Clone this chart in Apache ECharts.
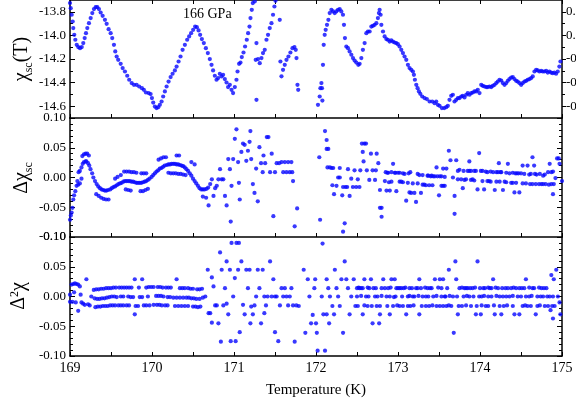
<!DOCTYPE html>
<html><head><meta charset="utf-8">
<script src="https://cdn.jsdelivr.net/npm/echarts@6/dist/echarts.min.js"></script>
<style>html,body{margin:0;padding:0;background:#fff}#c{width:576px;height:409px}</style>
</head><body><div id="c"></div>
<script>
// ---------- data ----------
const xTickLabels = ['169','170','171','172','173','174','175'];
const chiTicks = [-14.6,-14.4,-14.2,-14.0,-13.8];
const chiMinorTicks = [-14.5,-14.3,-14.1,-13.9];
const chiTickLabels = ['-14.6','-14.4','-14.2','-14.0','-13.8'];
const chiRightLabels = ['-0.6','-0.4','-0.2','0.0','0.2'];
const pressureLabel = '166 GPa';

// panel 1: chi_sc (T)
const chiSc = [
[169.000,-13.726],[169.009,-13.769],[169.021,-13.825],[169.033,-13.882],[169.040,-13.938],[169.052,-13.995],[169.065,-14.037],[169.082,-14.080],[169.101,-14.099],[169.122,-14.108],[169.143,-14.099],[169.162,-14.065],[169.179,-14.023],[169.195,-13.981],[169.211,-13.938],[169.231,-13.896],[169.252,-13.853],[169.272,-13.811],[169.292,-13.777],[169.313,-13.760],[169.333,-13.760],[169.353,-13.777],[169.374,-13.806],[169.398,-13.834],[169.426,-13.868],[169.447,-13.902],[169.471,-13.947],[169.496,-13.981],[169.515,-14.023],[169.536,-14.080],[169.552,-14.136],[169.569,-14.179],[169.588,-14.207],[169.618,-14.241],[169.642,-14.277],[169.670,-14.306],[169.698,-14.342],[169.722,-14.376],[169.752,-14.404],[169.780,-14.419],[169.812,-14.419],[169.844,-14.433],[169.877,-14.447],[169.901,-14.461],[169.926,-14.484],[169.959,-14.489],[169.983,-14.497],[169.999,-14.531],[170.015,-14.569],[170.035,-14.603],[170.056,-14.616],[170.076,-14.608],[170.096,-14.588],[170.117,-14.560],[170.136,-14.518],[170.157,-14.475],[170.178,-14.433],[170.202,-14.391],[170.227,-14.353],[170.251,-14.325],[170.279,-14.297],[170.300,-14.264],[170.324,-14.221],[170.348,-14.179],[170.373,-14.122],[170.401,-14.080],[170.429,-14.037],[170.453,-14.009],[170.477,-13.981],[170.502,-13.953],[170.526,-13.925],[170.547,-13.930],[170.568,-13.958],[170.587,-13.995],[170.608,-14.031],[170.632,-14.065],[170.657,-14.108],[170.681,-14.150],[170.705,-14.201],[170.726,-14.249],[170.745,-14.297],[170.766,-14.342],[170.787,-14.376],[170.806,-14.362],[170.827,-14.325],[170.848,-14.348],[170.867,-14.334],[170.888,-14.370],[170.909,-14.399],[170.928,-14.438],[170.949,-14.419],[170.970,-14.461],[170.989,-14.489],[171.010,-14.438],[171.030,-14.376],[171.043,-14.306],[171.062,-14.241],[171.079,-14.230],[171.095,-14.184],[171.116,-14.145],[171.135,-14.094],[171.156,-14.037],[171.172,-13.981],[171.189,-13.925],[171.201,-13.853],[171.217,-13.783],[171.229,-13.726],[171.253,-13.712],[171.274,-14.065],[171.274,-14.546],[171.265,-14.207],[171.293,-14.201],[171.314,-14.235],[171.335,-14.192],[171.354,-14.150],[171.375,-14.122],[171.396,-14.037],[171.415,-13.995],[171.436,-13.938],[171.457,-13.896],[171.476,-13.825],[171.493,-13.755],[171.506,-13.707],[171.558,-13.868],[171.566,-14.221],[171.579,-14.347],[171.598,-14.292],[171.619,-14.249],[171.640,-14.207],[171.664,-14.179],[171.688,-14.145],[171.713,-14.108],[171.737,-14.099],[171.753,-14.122],[171.762,-14.192],[171.774,-14.419],[171.783,-14.461],
[172.024,-14.588],[172.045,-14.518],[172.054,-14.447],[172.066,-14.404],[172.073,-14.447],[172.078,-14.552],[172.085,-14.249],[172.094,-14.080],[172.106,-13.995],[172.118,-13.953],[172.134,-13.910],[172.151,-13.868],[172.167,-13.811],[172.188,-13.783],[172.207,-13.797],[172.228,-13.811],[172.248,-13.797],[172.268,-13.783],[172.289,-13.777],[172.309,-13.797],[172.329,-13.825],[172.341,-13.910],[172.353,-14.023],[172.370,-14.094],[172.390,-14.108],[172.410,-14.136],[172.431,-14.164],[172.451,-14.192],[172.471,-14.213],[172.492,-14.230],[172.516,-14.249],[172.532,-14.241],[172.553,-14.192],[172.572,-14.122],[172.593,-14.065],[172.614,-13.981],[172.633,-13.967],[172.654,-13.967],[172.675,-13.925],[172.694,-13.919],[172.715,-13.910],[172.736,-13.896],[172.755,-13.853],[172.767,-13.811],[172.776,-13.783],[172.788,-13.825],[172.797,-13.910],[172.817,-13.967],[172.837,-14.009],[172.858,-14.031],[172.877,-14.037],[172.898,-14.052],[172.918,-14.043],[172.938,-14.052],[172.959,-14.060],[172.979,-14.065],[172.999,-14.074],[173.019,-14.094],[173.040,-14.122],[173.060,-14.150],[173.080,-14.179],[173.101,-14.207],[173.121,-14.249],[173.141,-14.277],[173.162,-14.292],[173.182,-14.306],[173.194,-14.334],[173.206,-14.376],[173.223,-14.419],[173.239,-14.447],[173.255,-14.475],[173.272,-14.495],[173.296,-14.518],[173.324,-14.531],[173.352,-14.540],[173.385,-14.560],[173.418,-14.560],[173.446,-14.574],[173.466,-14.560],[173.486,-14.588],[173.507,-14.597],[173.535,-14.616],[173.564,-14.616],[173.588,-14.608],[173.608,-14.597],[173.628,-14.546],[173.649,-14.512],[173.669,-14.503],[173.689,-14.560],[173.710,-14.546],[173.730,-14.531],[173.750,-14.531],[173.771,-14.518],[173.790,-14.512],[173.811,-14.526],[173.832,-14.503],[173.851,-14.489],[173.872,-14.503],[173.893,-14.489],[173.912,-14.484],[173.933,-14.475],[173.954,-14.475],[173.973,-14.461],[173.994,-14.489],[174.015,-14.419],[174.034,-14.427],[174.055,-14.433],[174.076,-14.438],[174.095,-14.438],[174.116,-14.433],[174.137,-14.438],[174.156,-14.427],[174.177,-14.419],[174.198,-14.404],[174.217,-14.391],[174.238,-14.376],[174.259,-14.382],[174.278,-14.404],[174.299,-14.419],[174.320,-14.404],[174.339,-14.385],[174.359,-14.370],[174.380,-14.357],[174.400,-14.353],[174.420,-14.370],[174.441,-14.385],[174.460,-14.391],[174.481,-14.404],[174.502,-14.419],[174.521,-14.404],[174.542,-14.391],[174.563,-14.385],[174.582,-14.376],[174.603,-14.370],[174.624,-14.362],[174.643,-14.348],[174.664,-14.306],[174.685,-14.292],[174.704,-14.297],[174.725,-14.306],[174.746,-14.300],[174.765,-14.306],[174.786,-14.306],[174.807,-14.300],[174.826,-14.315],[174.847,-14.306],[174.867,-14.315],[174.887,-14.320],[174.907,-14.315],[174.928,-14.325],[174.948,-14.306],[174.968,-14.264],[174.981,-14.221]
];

// panel 2: delta chi_sc
const dChiMain = [
[169.00,-0.071],[169.01,-0.064],[169.02,-0.059],[169.03,-0.051],[169.04,-0.037],[169.05,-0.030],[169.065,-0.023],[169.08,-0.014],[169.09,-0.006],[169.105,0.009],[169.12,0.011],[169.14,0.017],[169.155,0.023],[169.17,0.026],[169.19,0.027],[169.20,0.027],[169.22,0.024],[169.235,0.020],[169.25,0.014],[169.27,0.007],[169.285,0.000],[169.305,-0.006],[169.325,-0.011],[169.345,-0.015],[169.365,-0.018],[169.385,-0.020],[169.405,-0.021],[169.425,-0.022],[169.445,-0.022],[169.465,-0.021],[169.49,-0.020],[169.51,-0.018],[169.53,-0.016],[169.55,-0.015],[169.57,-0.013],[169.59,-0.011],[169.61,-0.010],[169.63,-0.009],[169.65,-0.007],[169.67,-0.006],[169.69,-0.006],[169.71,-0.006],[169.73,-0.006],[169.75,-0.007],[169.77,-0.007],[169.79,-0.008],[169.81,-0.009],[169.83,-0.009],[169.85,-0.009],[169.87,-0.009],[169.89,-0.008],[169.91,-0.007],[169.93,-0.006],[169.95,-0.004],[169.97,-0.002],[169.995,0.001],[170.015,0.004],[170.035,0.007],[170.055,0.010],[170.075,0.012],[170.095,0.015],[170.115,0.016],[170.135,0.018],[170.155,0.020],[170.18,0.021],[170.20,0.022],[170.22,0.022],[170.24,0.023],[170.26,0.023],[170.28,0.023],[170.30,0.022],[170.32,0.022],[170.34,0.021],[170.36,0.020],[170.38,0.019],[170.40,0.017],[170.42,0.014],[170.44,0.011],[170.46,0.007],[170.48,0.003],[170.50,-0.002],[170.52,-0.006],[170.54,-0.010],[170.56,-0.014],[170.58,-0.018],[170.60,-0.020],[170.62,-0.020],[170.64,-0.020],[170.665,-0.019],[170.685,-0.017]
];
const dChiBands = [
[169.15,0.036],[169.17,0.039],[169.19,0.040],[169.21,0.040],[169.23,0.037],[169.55,-0.002],[169.58,0.001],[169.62,0.004],[169.66,0.010],[169.69,0.010],[169.72,0.010],[169.75,0.009],[169.78,0.009],[169.81,0.008],[169.87,0.007],[169.90,0.007],[169.93,0.007],[170.08,0.030],[170.11,0.032],[170.14,0.034],[170.17,0.034],[170.30,0.037],[170.33,0.037],[170.48,0.026],[170.52,0.022],
[169.10,-0.012],[169.12,-0.010],[169.14,-0.002],[169.32,-0.028],[169.35,-0.031],[169.38,-0.034],[169.41,-0.036],[169.44,-0.037],[169.47,-0.037],[169.68,-0.020],[169.71,-0.021],[169.74,-0.022],[169.86,-0.023],[169.89,-0.023],[169.92,-0.021],[169.95,-0.019],[170.20,0.008],[170.23,0.007],[170.26,0.007],[170.29,0.007],[170.32,0.006],[170.35,0.006],[170.38,0.005],[170.41,0.004],[170.62,-0.032],[170.66,-0.034]
];
const dChiScatter = [
[170.69,-0.047],[170.71,-0.011],[170.73,-0.003],[170.75,-0.031],[170.77,-0.018],[170.79,-0.014],[170.81,-0.003],[170.83,0.014],[170.85,-0.003],[170.87,-0.003],[170.89,-0.031],[170.91,-0.047],[170.93,0.031],[170.95,0.014],[170.96,-0.074],[170.97,-0.014],[170.99,0.031],[171.01,0.065],[171.03,0.081],[171.05,0.026],[171.06,-0.009],[171.07,-0.037],[171.09,0.043],[171.11,0.057],[171.13,0.055],[171.15,0.028],[171.17,0.045],[171.19,0.060],[171.20,0.078],[171.21,0.031],[171.23,-0.011],[171.25,-0.026],[171.27,0.015],[171.29,-0.040],[171.31,0.051],[171.33,0.024],[171.35,0.009],[171.36,0.037],[171.38,0.024],[171.40,0.068],[171.42,0.068],[171.44,0.009],[171.46,0.040],[171.48,-0.065],[171.50,0.009],[171.52,0.024],[171.55,0.024],[171.58,0.026],[171.60,0.009],[171.62,0.026],[171.64,0.009],[171.66,0.026],[171.68,0.009],[171.70,0.026],[171.71,0.009],[171.72,-0.006],[171.74,-0.082],[171.77,-0.052],
[172.04,0.034],[172.05,-0.071],[172.11,0.078],[172.13,0.063],[172.13,0.048],[172.15,0.048],[172.14,0.017],[172.17,0.017],[172.19,0.016],[172.21,0.016],[172.20,-0.013],[172.22,-0.028],[172.25,-0.014],[172.27,0.000],[172.29,0.016],[172.29,0.000],[172.32,-0.030],[172.33,-0.091],[172.35,-0.077],[172.33,-0.016],[172.36,-0.016],[172.38,-0.016],[172.39,0.014],[172.41,-0.031],[172.43,-0.002],[172.45,-0.016],[172.47,0.012],[172.49,-0.016],[172.51,-0.003],[172.53,-0.016],[172.54,0.012],[172.56,0.057],[172.57,0.043],[172.58,0.027],[172.59,0.057],[172.61,0.057],[172.62,0.012],[172.65,-0.004],[172.67,0.040],[172.69,0.012],[172.72,-0.004],[172.73,0.012],[172.74,0.040],[172.76,0.024],[172.78,-0.021],[172.78,-0.051],[172.80,-0.051],[172.80,-0.066],[172.84,-0.006],[172.86,-0.022],[172.88,0.008],[172.90,-0.022],[172.94,0.023],[172.96,0.008],[172.98,-0.023],[173.00,0.008],[173.02,-0.007],[173.04,-0.007],[173.08,0.006],[173.10,-0.039],[173.12,-0.009],[173.14,-0.025],[173.16,-0.026],[173.18,-0.010],[173.20,-0.026],[173.22,-0.041],[173.26,0.004],[173.28,-0.026],[173.32,-0.012],[173.34,-0.013],[173.37,0.003],[173.40,0.002],[173.43,0.002],[173.45,0.002],[173.47,0.017],[173.50,-0.030],[173.51,0.002],[173.55,-0.014],[173.55,0.015],[173.59,0.015],[173.62,0.045],[173.64,0.029],[173.67,0.000],[173.69,-0.031],[173.69,-0.061],[173.71,0.029],[173.75,0.013],[173.77,-0.003],[173.79,-0.018],[173.83,-0.003],[173.87,0.027],[173.87,0.011],[173.91,-0.003],[173.95,0.011],[173.97,-0.020],[173.99,0.041],[174.01,0.011],[174.03,-0.006],[174.05,-0.020],[174.07,0.010],[174.11,-0.006],[174.16,0.009],[174.18,-0.021],[174.22,0.009],[174.23,0.024],[174.26,0.009],[174.28,-0.021],[174.30,-0.007],[174.34,0.023],[174.36,0.007],[174.38,-0.009],[174.42,-0.025],[174.45,0.007],[174.48,-0.025],[174.52,0.020],[174.54,0.006],[174.56,-0.010],[174.58,0.020],[174.60,0.005],[174.61,-0.011],[174.64,0.034],[174.66,0.020],[174.69,0.005],[174.72,-0.011],[174.75,-0.011],[174.77,0.003],[174.80,-0.011],[174.83,0.009],[174.85,0.023],[174.89,0.010],[174.89,-0.028],[174.90,-0.011],[174.92,-0.001],[174.94,0.032],[174.96,0.032],[174.97,0.023],[175.00,-0.006],
[172.85,0.009],[172.87,0.008],[172.92,0.009],[172.97,0.008],[173.02,0.008],[173.06,0.007],[173.13,0.007],[173.15,0.009],[173.24,0.006],[173.30,0.004],[173.36,0.003],[173.41,0.003],[173.48,0.002],[173.53,0.002],[173.57,0.001],[173.73,0.011],[173.80,0.011],[173.85,0.011],[173.89,0.011],[173.93,0.011],[174.03,0.011],[174.09,0.009],[174.13,0.010],[174.20,0.009],[174.25,0.009],[174.32,0.008],[174.40,0.008],[174.43,0.007],[174.47,0.007],[174.50,0.007],[174.62,0.006],[174.67,0.006],[174.73,0.006],[174.79,0.005],[174.87,0.009],
[172.89,-0.008],[172.92,-0.007],[173.06,-0.008],[173.24,-0.010],[173.30,-0.012],[173.38,-0.013],[173.42,-0.013],[173.53,-0.014],[173.57,-0.014],[173.73,-0.003],[173.81,-0.004],[173.89,-0.004],[173.93,-0.005],[174.09,-0.006],[174.13,-0.007],[174.20,-0.007],[174.24,-0.007],[174.32,-0.008],[174.40,-0.009],[174.44,-0.009],[174.52,-0.010],[174.64,-0.011],[174.68,-0.011],[174.77,-0.011],[174.84,-0.012],[174.87,-0.011]
];

// panel 3: second difference
const d2ChiStart = [
[169.00,0.003],[169.00,-0.009],[169.02,0.020],[169.03,-0.009],[169.04,0.021],[169.05,0.007],[169.06,0.022],[169.07,-0.010],[169.08,0.021],[169.10,0.020],[169.10,-0.024],[169.12,0.017],[169.13,0.003],[169.14,-0.010],[169.16,-0.012],[169.18,-0.014],[169.20,0.029],[169.22,-0.013],[169.24,-0.015],[169.26,0.000]
];
const d2ChiBands = [
[169.29,0.011],[169.32,0.012],[169.35,0.012],[169.38,0.013],[169.41,0.013],[169.44,0.014],[169.47,0.014],[169.50,0.014],[169.53,0.015],[169.56,0.015],[169.60,0.015],[169.63,0.015],[169.66,0.015],[169.69,0.015],[169.72,0.015],[169.75,0.015],[169.84,0.015],[169.93,0.015],[169.96,0.016],[169.99,0.016],[170.02,0.016],[170.07,0.016],[170.10,0.016],[170.13,0.015],[170.17,0.015],[170.20,0.015],[170.23,0.015],[170.34,0.014],[170.37,0.014],[170.40,0.014],[170.44,0.014],[170.47,0.013],[170.50,0.013],[170.55,0.012],[170.58,0.012],[170.61,0.013],
[169.30,-0.003],[169.33,-0.004],[169.36,-0.004],[169.39,-0.003],[169.42,-0.003],[169.45,-0.002],[169.48,-0.001],[169.51,0.000],[169.54,0.000],[169.57,-0.001],[169.62,0.000],[169.65,0.000],[169.71,0.000],[169.74,-0.001],[169.77,-0.001],[169.85,-0.001],[169.88,-0.001],[169.95,0.000],[170.05,0.001],[170.08,0.001],[170.11,0.001],[170.14,0.000],[170.19,-0.001],[170.22,-0.001],[170.26,-0.002],[170.30,-0.002],[170.34,-0.002],[170.38,-0.002],[170.42,-0.002],[170.45,-0.002],[170.48,-0.003],[170.51,-0.003],[170.54,-0.004],[170.58,-0.004],[170.62,-0.002],[170.65,0.000],
[169.31,-0.018],[169.34,-0.017],[169.37,-0.017],[169.40,-0.016],[169.43,-0.016],[169.46,-0.016],[169.49,-0.015],[169.52,-0.015],[169.55,-0.015],[169.59,-0.015],[169.62,-0.015],[169.65,-0.015],[169.69,-0.015],[169.72,-0.015],[169.80,-0.016],[169.83,-0.016],[169.90,-0.015],[169.93,-0.015],[169.97,-0.015],[170.02,-0.014],[170.06,-0.014],[170.09,-0.014],[170.12,-0.015],[170.16,-0.015],[170.19,-0.015],[170.28,-0.016],[170.32,-0.016],[170.36,-0.016],[170.40,-0.016],[170.44,-0.016],[170.50,-0.017],[170.53,-0.017],[170.56,-0.018],[170.59,-0.017],
[169.79,0.029],[169.79,-0.030],[169.88,0.029],[170.30,0.029]
];
const d2ChiScatter = [
[170.68,0.045],[170.69,-0.028],[170.71,-0.028],[170.73,0.032],[170.73,-0.044],[170.75,0.017],[170.77,-0.015],[170.79,-0.015],[170.81,-0.045],[170.83,0.074],[170.84,-0.076],[170.85,0.045],[170.87,-0.015],[170.89,0.014],[170.91,0.059],[170.91,-0.012],[170.93,-0.030],[170.95,0.045],[170.96,-0.075],[170.97,0.090],[170.99,0.000],[171.01,0.031],[171.02,-0.075],[171.03,0.090],[171.06,0.090],[171.05,0.045],[171.07,-0.060],[171.09,0.059],[171.11,-0.014],[171.13,-0.030],[171.15,0.045],[171.17,0.014],[171.19,0.045],[171.20,-0.045],[171.21,-0.017],[171.23,-0.030],[171.25,-0.015],[171.27,0.000],[171.29,0.045],[171.31,0.014],[171.33,-0.045],[171.35,0.045],[171.37,0.000],[171.37,-0.028],[171.39,-0.015],[171.41,0.000],[171.44,0.059],[171.46,0.000],[171.48,0.029],[171.50,0.000],[171.50,-0.060],[171.54,-0.075],[171.52,0.000],[171.56,-0.015],[171.58,0.014],[171.60,0.000],[171.62,0.014],[171.64,0.000],[171.66,-0.015],[171.68,0.000],[171.70,0.014],[171.72,-0.015],[171.74,-0.076],[171.76,-0.015],
[171.79,-0.016],[171.85,0.045],[171.87,-0.061],[171.90,0.029],[171.92,0.0],[171.94,-0.045],[171.96,-0.031],[171.98,0.014],[171.99,0.029],[172.00,-0.045],[172.01,-0.061],[172.02,-0.091],[172.07,0.0],[172.08,0.089],[172.09,-0.030],[172.11,-0.091],[172.13,-0.030],[172.13,0.029],[172.15,0.014],[172.16,-0.045],[172.17,0.0],[172.20,-0.016],[172.22,-0.030],[172.23,0.045],[172.25,0.014],[172.27,0.0],[172.29,-0.016],[172.31,0.029],[172.33,-0.061],[172.35,0.059],[172.37,0.029],[172.39,0.014],[172.41,-0.030],[172.43,0.0],[172.46,0.029],[172.48,-0.016],[172.50,0.014],[172.53,0.014],[172.55,0.014],[172.57,-0.030],[172.59,0.029],[172.61,0.0],[172.63,-0.016],[172.65,0.014],[172.67,0.029],[172.69,-0.045],[172.72,0.0],[172.73,0.014],[172.74,-0.016],[172.77,-0.045],[172.78,-0.030],[172.82,0.029],[172.84,0.014],[172.86,0.0],[172.88,0.014],[172.90,-0.030],[172.92,0.029],[172.94,-0.016],[172.96,0.029],[172.97,0.0],[173.00,0.014],[173.02,-0.016],[173.04,0.014],[173.07,0.014],[173.10,-0.030],[173.12,0.0],[173.15,-0.016],[173.17,0.014],[173.20,0.0],[173.22,0.014],[173.26,0.029],[173.26,-0.030],[173.28,0.014],[173.30,0.0],[173.34,-0.016],[173.39,0.014],[173.43,0.0],[173.45,0.029],[173.47,-0.016],[173.51,0.029],[173.55,0.029],[173.57,0.0],[173.59,-0.016],[173.62,0.045],[173.65,-0.016],[173.67,0.0],[173.68,-0.061],[173.70,0.059],[173.71,0.029],[173.73,-0.030],[173.75,0.014],[173.78,-0.016],[173.81,0.014],[173.85,0.014],[173.87,0.0],[173.89,-0.016],[173.91,0.014],[173.95,-0.030],[173.97,0.059],[173.99,0.0],[174.01,-0.030],[174.04,0.014],[174.07,-0.016],[174.10,0.0],[174.12,0.014],[174.16,0.029],[174.18,-0.030],[174.22,0.014],[174.24,-0.016],[174.26,-0.030],[174.28,0.0],[174.31,0.014],[174.34,0.014],[174.36,0.0],[174.38,0.014],[174.42,-0.030],[174.44,0.014],[174.46,0.0],[174.48,-0.030],[174.52,-0.016],[174.54,0.014],[174.56,0.029],[174.58,-0.016],[174.60,0.0],[174.64,0.014],[174.68,-0.030],[174.70,-0.016],[174.75,0.014],[174.77,0.0],[174.79,-0.016],[174.81,0.014],[174.83,-0.016],[174.85,0.0],[174.86,-0.023],[174.87,0.036],[174.89,-0.037],[174.90,0.029],[174.91,-0.016],[174.93,0.045],[174.95,0.0],[174.97,-0.010],[174.98,-0.030],
[172.52,0.015],[172.57,0.014],[172.63,0.015],[172.70,0.014],[172.80,0.014],[172.91,0.015],[172.98,0.014],[173.02,0.014],[173.09,0.015],[173.14,0.014],[173.24,0.014],[173.33,0.015],[173.36,0.014],[173.41,0.014],[173.49,0.015],[173.53,0.014],[173.60,0.014],[173.78,0.015],[173.83,0.014],[173.88,0.014],[173.94,0.015],[174.00,0.014],[174.06,0.014],[174.10,0.015],[174.14,0.014],[174.19,0.015],[174.27,0.014],[174.41,0.015],[174.48,0.014],[174.51,0.014],[174.60,0.015],[174.66,0.014],[174.72,0.015],[174.78,0.014],
[172.50,0.0],[172.55,0.001],[172.64,0.0],[172.75,0.0],[172.80,0.001],[172.90,0.0],[172.95,-0.001],[173.05,0.0],[173.14,0.001],[173.18,0.0],[173.25,0.001],[173.34,0.0],[173.37,0.0],[173.47,0.001],[173.53,0.0],[173.58,0.0],[173.63,0.001],[173.72,0.0],[173.80,0.0],[173.84,0.001],[173.92,0.0],[174.02,0.0],[174.05,0.001],[174.14,0.0],[174.20,0.001],[174.24,0.0],[174.32,0.0],[174.40,0.001],[174.50,0.0],[174.56,0.0],[174.63,0.001],[174.70,0.0],[174.74,0.0],[174.82,0.0],[174.89,0.0],
[172.51,-0.016],[172.59,-0.015],[172.68,-0.016],[172.78,-0.016],[172.87,-0.016],[172.99,-0.015],[173.06,-0.016],[173.12,-0.016],[173.19,-0.015],[173.29,-0.016],[173.38,-0.016],[173.42,-0.015],[173.51,-0.016],[173.55,-0.016],[173.62,-0.015],[173.74,-0.016],[173.83,-0.015],[173.96,-0.016],[174.02,-0.015],[174.10,-0.016],[174.17,-0.015],[174.29,-0.016],[174.33,-0.015],[174.40,-0.016],[174.55,-0.015],[174.62,-0.016],[174.73,-0.015],[174.88,-0.016]
];

// ---------- chart ----------
const FONT = '"Liberation Serif","DejaVu Serif",serif';
const BLUE = '#0808ff';
const chart = echarts.init(document.getElementById('c'), null, {renderer: 'canvas'});
const axisLineStyle = {color: '#000', width: 1.5};
const L = 70, R = 14;

function xAxisFor(gi, showLabels, pos) {
  return {
    type: 'value', gridIndex: gi, position: pos || 'bottom', min: 169, max: 175, interval: 0.5,
    axisLine: {show: true, onZero: false, lineStyle: axisLineStyle},
    axisTick: {show: true, inside: true, length: 4, lineStyle: {color: '#000', width: 1}},
    splitLine: {show: false},
    axisLabel: {show: showLabels, color: '#000', fontFamily: FONT, fontSize: 14, margin: 5,
      formatter: v => { const i = xTickLabels.indexOf(String(v)); return i >= 0 ? xTickLabels[i] : ''; }},
    name: showLabels ? 'Temperature (K)' : '', nameLocation: 'middle', nameGap: 27,
    nameTextStyle: {color: '#000', fontFamily: FONT, fontSize: 15}
  };
}
function dYAxis(gi, pos) {
  return {
    type: 'value', gridIndex: gi, position: pos, min: -0.1, max: 0.1, interval: 0.05,
    axisLine: {show: true, onZero: false, lineStyle: axisLineStyle},
    axisTick: {show: true, inside: true, length: 5, lineStyle: {color: '#000'}},
    minorTick: {show: true, splitNumber: 5, length: 3, lineStyle: {color: '#000'}},
    splitLine: {show: false}, minorSplitLine: {show: false},
    axisLabel: {show: pos === 'left', color: '#000', fontFamily: FONT, fontSize: 13, margin: 4,
      formatter: v => v.toFixed(2)}
  };
}
const chiAxisBase = {
  type: 'value', gridIndex: 0, min: -14.7, max: -13.7,
  axisLine: {show: true, onZero: false, lineStyle: axisLineStyle},
  splitLine: {show: false}
};
const chiLabel = (labels) => (v => { const i = chiTicks.findIndex(t => Math.abs(t - v) < 1e-6); return i >= 0 ? labels[i] : ''; });

const gridBase = {left: L, right: R, containLabel: false, outerBoundsMode: 'none'};
const option = {
  animation: false,
  backgroundColor: '#fff',
  grid: [
    Object.assign({top: 0, height: 118}, gridBase),
    Object.assign({top: 118, height: 119}, gridBase),
    Object.assign({top: 237, height: 119}, gridBase)
  ],
  xAxis: [xAxisFor(0, false), xAxisFor(1, false), xAxisFor(2, true), xAxisFor(0, false, 'top')],
  yAxis: [
    Object.assign({}, chiAxisBase, {position: 'left',
      axisTick: {show: true, inside: true, length: 5, customValues: chiTicks, lineStyle: {color: '#000'}},
      axisLabel: {show: true, customValues: chiTicks, color: '#000', fontFamily: FONT, fontSize: 13, margin: 4,
        formatter: chiLabel(chiTickLabels)}}),
    Object.assign({}, chiAxisBase, {position: 'right',
      axisTick: {show: true, inside: false, length: 4, customValues: chiTicks, lineStyle: {color: '#000'}},
      axisLabel: {show: true, customValues: chiTicks, color: '#000', fontFamily: FONT, fontSize: 13, margin: 4,
        formatter: chiLabel(chiRightLabels)}}),
    Object.assign({}, chiAxisBase, {position: 'left', offset: 0, axisLine: {show: false},
      axisTick: {show: true, inside: true, length: 3, customValues: chiMinorTicks, lineStyle: {color: '#000'}},
      axisLabel: {show: false}}),
    Object.assign({}, chiAxisBase, {position: 'right', offset: 0, axisLine: {show: false},
      axisTick: {show: true, inside: false, length: 3, customValues: chiMinorTicks, lineStyle: {color: '#000'}},
      axisLabel: {show: false}}),
    dYAxis(1, 'left'), dYAxis(1, 'right'),
    dYAxis(2, 'left'), dYAxis(2, 'right')
  ],
  series: [
    {type: 'scatter', xAxisIndex: 0, yAxisIndex: 0, data: chiSc},
    {type: 'scatter', xAxisIndex: 1, yAxisIndex: 4, data: dChiMain},
    {type: 'scatter', xAxisIndex: 1, yAxisIndex: 4, data: dChiBands},
    {type: 'scatter', xAxisIndex: 1, yAxisIndex: 4, data: dChiScatter},
    {type: 'scatter', xAxisIndex: 2, yAxisIndex: 6, data: d2ChiStart},
    {type: 'scatter', xAxisIndex: 2, yAxisIndex: 6, data: d2ChiBands},
    {type: 'scatter', xAxisIndex: 2, yAxisIndex: 6, data: d2ChiScatter}
  ].map(s => Object.assign(s, {symbol: 'circle', symbolSize: 4.2, itemStyle: {color: BLUE}, silent: true, clip: true})),
  graphic: [
    {type: 'text', left: 183, top: 7, style: {text: pressureLabel, fill: '#000', font: '14px ' + FONT}},
    {type: 'text', x: 22, y: 59, rotation: Math.PI / 2,
      style: {text: '{a|χ}{s|sc}{a|(T)}', align: 'center', verticalAlign: 'middle',
        rich: {a: {fontSize: 20, fontFamily: FONT, fill: '#000', verticalAlign: 'bottom'},
               s: {fontSize: 12, fontFamily: FONT, fill: '#000', verticalAlign: 'bottom', padding: [0, 0, -3, 0]}}}},
    {type: 'text', x: 22, y: 178, rotation: Math.PI / 2,
      style: {text: '{a|Δχ}{s|sc}', align: 'center', verticalAlign: 'middle',
        rich: {a: {fontSize: 20, fontFamily: FONT, fill: '#000', verticalAlign: 'bottom'},
               s: {fontSize: 12, fontFamily: FONT, fill: '#000', verticalAlign: 'bottom', padding: [0, 0, -3, 0]}}}},
    {type: 'text', x: 19, y: 296, rotation: Math.PI / 2,
      style: {text: '{a|Δ}{p|2}{a|χ}', align: 'center', verticalAlign: 'middle',
        rich: {a: {fontSize: 20, fontFamily: FONT, fill: '#000', verticalAlign: 'bottom'},
               p: {fontSize: 12, fontFamily: FONT, fill: '#000', verticalAlign: 'top'}}}}
  ]
};
chart.setOption(option);
</script>
</body></html>
